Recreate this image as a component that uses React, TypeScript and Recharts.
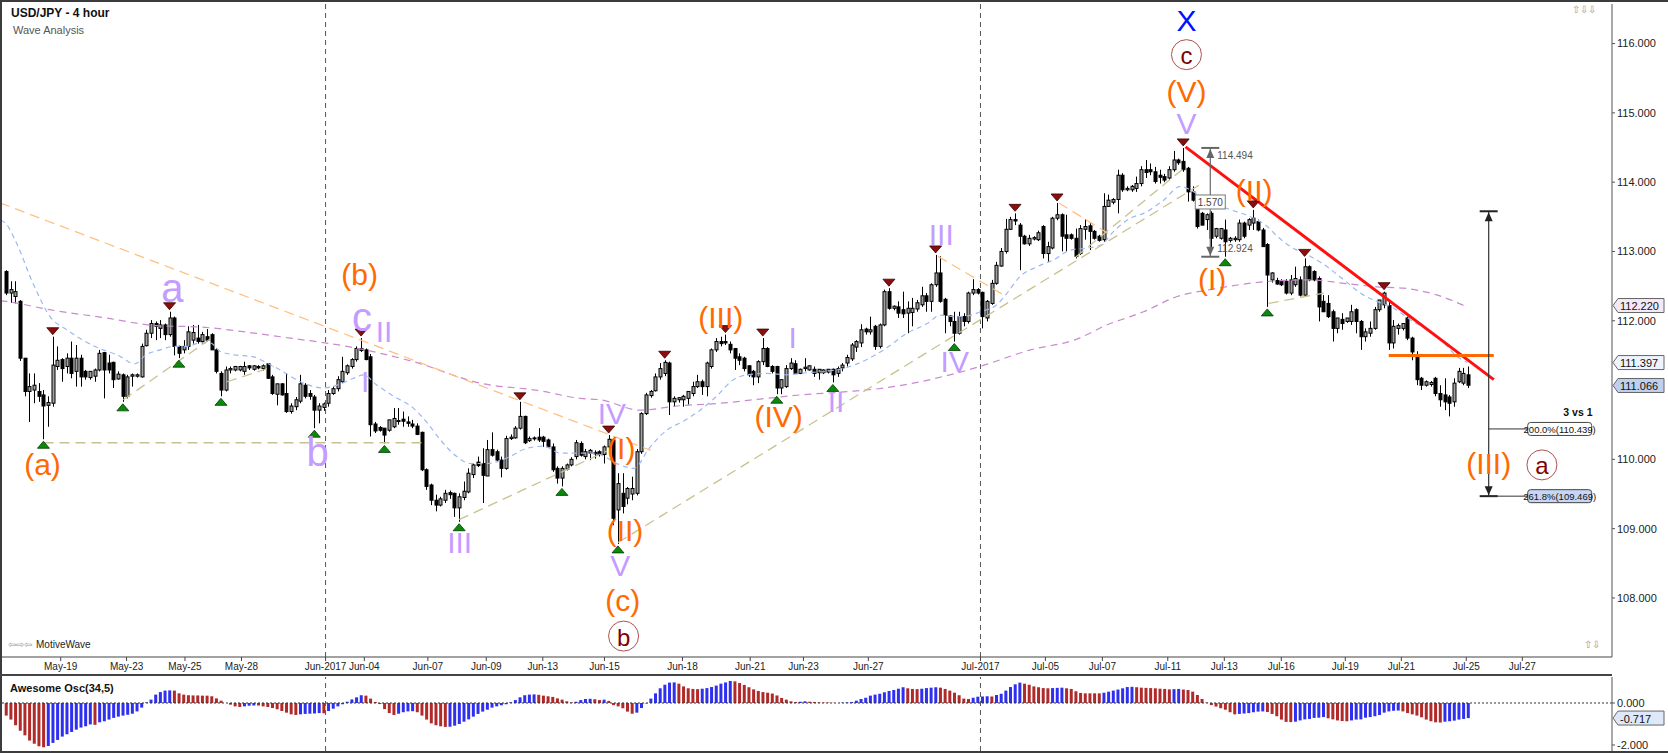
import React from 'react'
import {
  ComposedChart,
  Bar,
  Line,
  XAxis,
  YAxis,
  ReferenceLine,
  ReferenceDot,
  Cell,
} from 'recharts'

type Candle = [number, number, number, number] // open, high, low, close

// USD/JPY 4h bars, bar 0 is the first bar on the left
const candlesMay: Candle[] = [
  [112.71, 112.73, 112.37, 112.4], [112.4, 112.57, 112.26, 112.45], [112.35, 112.57, 112.25, 112.42],
  [112.28, 112.3, 111.42, 111.46], [111.46, 111.46, 110.91, 110.98], [110.98, 111.24, 110.54, 111.05],
  [111.0, 111.24, 110.81, 111.07], [110.98, 111.1, 110.83, 110.91], [110.93, 111.0, 110.29, 110.77],
  [110.78, 110.91, 110.47, 110.82], [110.81, 111.77, 110.76, 111.36], [111.34, 111.63, 111.29, 111.43],
  [111.44, 111.46, 111.12, 111.31], [111.34, 111.53, 111.24, 111.46], [111.46, 111.7, 111.17, 111.24],
  [111.27, 111.65, 111.05, 111.46], [111.46, 111.51, 111.05, 111.19], [111.27, 111.29, 111.15, 111.19],
  [111.18, 111.27, 111.15, 111.27], [111.2, 111.31, 111.12, 111.29], [111.29, 111.58, 111.27, 111.53],
  [111.54, 111.55, 110.88, 111.29], [111.39, 111.51, 111.24, 111.29], [111.4, 111.41, 111.03, 111.15],
  [111.16, 111.27, 111.15, 111.23], [111.22, 111.24, 110.83, 110.91], [110.91, 111.22, 110.88, 111.19],
  [111.2, 111.24, 111.05, 111.22], [111.2, 111.24, 111.18, 111.22], [111.19, 111.67, 111.18, 111.63],
  [111.64, 111.87, 111.63, 111.82], [111.82, 112.01, 111.75, 111.96], [111.96, 111.99, 111.72, 111.92],
  [111.89, 112.01, 111.75, 111.94], [111.94, 111.96, 111.72, 111.8], [111.8, 112.13, 111.77, 112.04],
  [112.04, 112.06, 111.5, 111.63], [111.63, 111.64, 111.46, 111.53], [111.58, 111.72, 111.53, 111.63],
  [111.63, 111.92, 111.58, 111.84], [111.72, 111.94, 111.67, 111.83], [111.75, 111.94, 111.67, 111.7],
  [111.7, 111.84, 111.67, 111.8], [111.77, 111.88, 111.7, 111.72], [111.8, 111.82, 111.58, 111.58],
  [111.58, 111.6, 111.24, 111.27], [111.24, 111.27, 110.91, 111.0], [111.0, 111.34, 110.98, 111.29],
  [111.29, 111.34, 111.24, 111.31], [111.29, 111.35, 111.27, 111.34], [111.29, 111.35, 111.27, 111.34],
  [111.27, 111.41, 111.22, 111.34], [111.35, 111.36, 111.29, 111.32], [111.3, 111.36, 111.28, 111.35],
  [111.34, 111.36, 111.3, 111.32], [111.31, 111.37, 111.28, 111.35], [111.38, 111.39, 111.16, 111.17],
  [111.19, 111.22, 110.93, 110.95], [110.94, 111.09, 110.78, 111.09], [111.09, 111.1, 110.92, 110.93],
  [110.95, 111.24, 110.67, 110.69], [110.69, 110.81, 110.66, 110.77], [110.76, 110.9, 110.71, 110.86],
  [110.84, 111.22, 110.81, 111.09], [111.07, 111.1, 110.88, 110.91], [110.95, 111.0, 110.86, 110.91],
  [110.9, 110.93, 110.45, 110.71], [110.71, 110.81, 110.52, 110.77], [110.75, 110.82, 110.7, 110.8],
]

const candlesJun: Candle[] = [
  [110.81, 111.0, 110.76, 110.95], [110.95, 111.05, 110.93, 111.02], [111.02, 111.2, 110.98, 111.15],
  [111.12, 111.48, 111.1, 111.27], [111.25, 111.37, 111.22, 111.35], [111.34, 111.46, 111.31, 111.44],
  [111.44, 111.63, 111.41, 111.6], [111.6, 111.75, 111.55, 111.57], [111.58, 111.6, 111.43, 111.44],
  [111.48, 111.52, 110.33, 110.5], [110.51, 110.54, 110.38, 110.41], [110.46, 110.48, 110.4, 110.42],
  [110.45, 110.45, 110.23, 110.35], [110.42, 110.57, 110.4, 110.57], [110.47, 110.74, 110.45, 110.59],
  [110.55, 110.74, 110.5, 110.56], [110.58, 110.69, 110.47, 110.55], [110.54, 110.62, 110.47, 110.52],
  [110.51, 110.57, 110.45, 110.48], [110.48, 110.52, 110.35, 110.36], [110.39, 110.4, 109.83, 109.85],
  [109.85, 109.87, 109.56, 109.61], [109.63, 109.65, 109.34, 109.41], [109.41, 109.49, 109.25, 109.34],
  [109.34, 109.46, 109.32, 109.43], [109.41, 109.56, 109.37, 109.51], [109.52, 109.55, 109.43, 109.49],
  [109.51, 109.52, 109.17, 109.3], [109.3, 109.51, 109.1, 109.46], [109.45, 109.68, 109.41, 109.54],
  [109.53, 109.87, 109.51, 109.8], [109.78, 109.94, 109.73, 109.92], [109.96, 110.04, 109.89, 109.91],
  [109.94, 110.16, 109.37, 109.77], [109.76, 110.28, 109.76, 110.14], [110.14, 110.39, 110.04, 110.06],
  [110.11, 110.14, 109.96, 109.99], [109.99, 110.04, 109.74, 109.87], [109.87, 110.34, 109.85, 110.3],
  [110.3, 110.36, 110.28, 110.32], [110.31, 110.48, 110.3, 110.45], [110.45, 110.83, 110.43, 110.62],
  [110.62, 110.63, 110.22, 110.24], [110.27, 110.33, 110.25, 110.3], [110.3, 110.33, 110.27, 110.31],
  [110.32, 110.45, 110.25, 110.28], [110.32, 110.34, 110.18, 110.26], [110.28, 110.3, 110.17, 110.18],
  [110.18, 110.23, 109.82, 109.85], [109.87, 109.9, 109.65, 109.73], [109.73, 109.9, 109.61, 109.87],
  [109.86, 109.94, 109.84, 109.92], [109.92, 110.03, 109.9, 110.0], [110.04, 110.28, 110.0, 110.24],
  [110.23, 110.26, 110.04, 110.06], [110.04, 110.15, 110.0, 110.11], [110.09, 110.15, 109.99, 110.13],
  [110.08, 110.13, 110.01, 110.1], [110.11, 110.13, 110.04, 110.07], [110.07, 110.2, 109.94, 110.18],
  [110.18, 110.35, 110.15, 110.29], [110.28, 110.3, 109.05, 109.15], [109.27, 109.8, 108.78, 109.65],
  [109.51, 109.8, 109.22, 109.32], [109.44, 109.6, 109.35, 109.58], [109.5, 109.75, 109.41, 109.58],
  [109.51, 110.15, 109.48, 110.11], [110.11, 110.68, 110.08, 110.66], [110.66, 110.96, 110.64, 110.93],
  [110.92, 111.0, 110.89, 110.98], [110.99, 111.24, 110.98, 111.19], [111.19, 111.39, 111.15, 111.31],
  [111.24, 111.43, 111.2, 111.4], [111.39, 111.41, 110.64, 110.83], [110.83, 110.91, 110.76, 110.88],
  [110.86, 110.9, 110.82, 110.89], [110.86, 110.93, 110.76, 110.91], [110.88, 110.98, 110.79, 110.98],
  [110.95, 111.12, 110.91, 111.05], [111.05, 111.22, 111.03, 111.12], [111.12, 111.15, 110.93, 111.05],
  [111.05, 111.41, 110.91, 111.39], [111.34, 111.6, 111.31, 111.58], [111.58, 111.75, 111.55, 111.7],
  [111.7, 111.77, 111.63, 111.67], [111.7, 111.8, 111.65, 111.68], [111.66, 111.7, 111.53, 111.58],
  [111.6, 111.6, 111.29, 111.46], [111.48, 111.53, 111.36, 111.43], [111.46, 111.48, 111.27, 111.31],
  [111.35, 111.36, 111.19, 111.22], [111.27, 111.29, 111.07, 111.19], [111.19, 111.43, 111.1, 111.41],
  [111.41, 111.75, 111.36, 111.6], [111.6, 111.62, 111.33, 111.34], [111.34, 111.36, 111.24, 111.27],
  [111.34, 111.35, 110.94, 111.03], [111.03, 111.15, 110.94, 111.15], [111.05, 111.36, 111.03, 111.31],
  [111.31, 111.46, 111.29, 111.39], [111.38, 111.43, 111.24, 111.24], [111.24, 111.31, 111.23, 111.3],
  [111.31, 111.46, 111.27, 111.33], [111.29, 111.36, 111.28, 111.35], [111.3, 111.34, 111.19, 111.24],
  [111.25, 111.3, 111.15, 111.3], [111.25, 111.3, 111.23, 111.29], [111.26, 111.3, 111.24, 111.3],
  [111.3, 111.31, 111.11, 111.22], [111.24, 111.34, 111.19, 111.31], [111.32, 111.39, 111.27, 111.36],
  [111.39, 111.51, 111.34, 111.47], [111.45, 111.68, 111.42, 111.65], [111.62, 111.72, 111.55, 111.7],
  [111.68, 111.95, 111.62, 111.87], [111.88, 111.9, 111.8, 111.84], [111.84, 112.06, 111.8, 111.87],
  [111.92, 111.94, 111.58, 111.63], [111.63, 111.96, 111.6, 111.94], [111.94, 112.45, 111.92, 112.42],
  [112.42, 112.47, 112.16, 112.18], [112.18, 112.22, 112.15, 112.21], [112.2, 112.28, 112.04, 112.11],
  [112.16, 112.42, 112.04, 112.1], [112.11, 112.28, 111.82, 112.18], [112.12, 112.33, 111.92, 112.18],
  [112.17, 112.3, 112.13, 112.26], [112.23, 112.49, 112.2, 112.36], [112.36, 112.4, 112.13, 112.28],
  [112.28, 112.54, 112.13, 112.52], [112.52, 112.95, 112.49, 112.69], [112.69, 112.93, 112.26, 112.28],
  [112.31, 112.33, 111.82, 112.08], [112.07, 112.08, 111.92, 111.99], [111.99, 112.13, 111.7, 111.82],
  [111.82, 112.13, 111.8, 112.06], [112.06, 112.11, 111.92, 111.99], [111.99, 112.42, 111.96, 112.4],
  [112.4, 112.6, 112.37, 112.45], [112.45, 112.47, 112.38, 112.4],
]

const candlesJul: Candle[] = [
  [112.41, 112.42, 111.89, 112.06], [112.04, 112.3, 111.99, 112.28], [112.25, 112.59, 112.23, 112.54],
  [112.54, 112.85, 112.52, 112.8], [112.79, 113.05, 112.78, 113.0], [113.0, 113.47, 112.97, 113.32],
  [113.32, 113.5, 113.31, 113.46], [113.46, 113.55, 113.38, 113.44], [113.38, 113.41, 112.73, 113.22],
  [113.22, 113.24, 113.1, 113.11], [113.11, 113.24, 113.08, 113.19], [113.18, 113.22, 113.16, 113.2],
  [113.17, 113.3, 113.15, 113.27], [113.36, 113.38, 112.9, 112.97], [112.97, 113.14, 112.85, 113.07],
  [113.05, 113.5, 113.03, 113.48], [113.48, 113.7, 113.45, 113.53], [113.53, 113.55, 113.0, 113.22],
  [113.24, 113.53, 113.0, 113.19], [113.24, 113.26, 113.17, 113.19], [113.19, 113.33, 112.9, 112.93],
  [112.97, 113.38, 112.95, 113.33], [113.32, 113.46, 113.17, 113.36], [113.37, 113.41, 113.02, 113.29],
  [113.29, 113.31, 113.17, 113.19], [113.22, 113.24, 113.14, 113.16], [113.17, 113.84, 113.14, 113.65],
  [113.65, 113.82, 113.65, 113.74], [113.71, 113.77, 113.68, 113.75], [113.75, 114.18, 113.55, 114.1],
  [114.1, 114.13, 113.86, 113.89], [113.89, 113.94, 113.87, 113.91], [113.89, 113.96, 113.86, 113.94],
  [113.91, 114.08, 113.86, 113.98], [113.98, 114.23, 113.94, 114.18], [114.18, 114.32, 114.06, 114.14],
  [114.18, 114.27, 114.1, 114.15], [114.15, 114.22, 113.98, 114.01], [114.1, 114.18, 113.98, 114.07],
  [114.08, 114.12, 114.0, 114.03], [114.06, 114.23, 114.03, 114.18], [114.18, 114.45, 114.15, 114.32],
  [114.32, 114.34, 114.25, 114.28], [114.3, 114.494, 114.15, 114.18], [114.2, 114.22, 113.72, 113.86],
  [113.86, 113.94, 113.72, 113.74], [113.62, 113.63, 113.33, 113.36], [113.55, 113.57, 113.38, 113.38],
  [113.46, 113.55, 113.31, 113.53], [113.55, 113.58, 113.05, 113.19], [113.22, 113.34, 113.19, 113.33],
  [113.19, 113.34, 113.17, 113.33], [113.31, 113.46, 112.924, 113.14], [113.16, 113.21, 113.13, 113.19],
  [113.17, 113.22, 113.14, 113.19], [113.17, 113.46, 113.14, 113.41], [113.41, 113.43, 113.19, 113.22],
  [113.38, 113.48, 113.31, 113.46], [113.41, 113.6, 113.31, 113.48], [113.43, 113.46, 113.29, 113.31],
  [113.31, 113.34, 113.07, 113.07], [113.1, 113.12, 112.2, 112.66], [112.59, 112.7, 112.55, 112.69],
  [112.58, 112.62, 112.52, 112.53], [112.57, 112.6, 112.5, 112.52], [112.57, 112.6, 112.38, 112.4],
  [112.4, 112.66, 112.37, 112.59], [112.52, 112.78, 112.49, 112.61], [112.59, 112.64, 112.35, 112.37],
  [112.37, 112.9, 112.35, 112.78], [112.78, 112.8, 112.57, 112.59], [112.71, 112.73, 112.57, 112.59],
  [112.61, 112.64, 111.99, 112.2], [112.28, 112.37, 112.13, 112.13], [112.25, 112.37, 112.04, 112.06],
  [112.13, 112.16, 111.7, 111.89], [111.89, 112.04, 111.82, 112.04], [112.02, 112.11, 111.87, 111.96],
  [111.99, 112.04, 111.97, 112.04], [111.99, 112.23, 111.94, 112.13], [112.16, 112.18, 111.82, 111.99],
  [111.99, 112.01, 111.58, 111.77], [111.77, 111.89, 111.7, 111.84], [111.82, 111.99, 111.77, 111.89],
  [111.89, 112.2, 111.87, 112.16], [112.16, 112.3, 112.13, 112.3], [112.23, 112.42, 112.18, 112.4],
  [112.22, 112.3, 111.58, 111.68], [111.68, 112.01, 111.6, 111.92], [111.89, 111.96, 111.8, 111.93],
  [111.89, 111.96, 111.86, 111.96], [112.04, 112.06, 111.72, 111.75], [111.75, 111.77, 111.43, 111.55],
  [111.51, 111.56, 111.07, 111.15], [111.17, 111.19, 111.0, 111.07], [111.07, 111.14, 111.05, 111.12],
  [111.08, 111.13, 111.05, 111.11], [111.17, 111.19, 110.91, 110.95], [110.95, 111.07, 110.76, 110.86],
  [110.93, 111.17, 110.71, 110.83], [110.9, 110.93, 110.62, 110.81], [110.83, 111.17, 110.76, 111.1],
  [111.12, 111.32, 111.1, 111.27], [111.1, 111.32, 111.07, 111.24], [111.22, 111.34, 111.03, 111.07],
]

// Awesome Oscillator (34,5), one value per bar
const aoMay = [
  -0.6, -0.79, -1.06, -1.32, -1.54, -1.79, -1.94, -2.06, -2.11, -2.05, -1.9, -1.76, -1.6, -1.49, -1.38,
  -1.27, -1.17, -1.11, -1.02, -1.04, -0.92, -0.87, -0.79, -0.71, -0.65, -0.6, -0.56, -0.51, -0.4, -0.22,
  0.03, 0.16, 0.4, 0.52, 0.59, 0.6, 0.59, 0.46, 0.4, 0.37, 0.36, 0.36, 0.35, 0.35, 0.32, 0.22, 0.11, 0.0,
  -0.08, -0.16, -0.19, -0.16, -0.13, -0.12, -0.12, -0.16, -0.19, -0.24, -0.3, -0.38, -0.46, -0.54, -0.57,
  -0.54, -0.52, -0.51, -0.5, -0.48, -0.49,
]
const aoJun = [
  -0.38, -0.27, -0.16, -0.06, 0.06, 0.17, 0.27, 0.37, 0.35, 0.21, 0.05, -0.05, -0.29, -0.48, -0.57, -0.51,
  -0.44, -0.4, -0.39, -0.44, -0.6, -0.79, -0.97, -1.06, -1.11, -1.14, -1.13, -1.08, -1.0, -0.89, -0.78,
  -0.65, -0.52, -0.41, -0.32, -0.22, -0.16, -0.11, -0.06, 0.03, 0.14, 0.27, 0.37, 0.4, 0.41, 0.39, 0.35,
  0.32, 0.29, 0.22, 0.16, 0.08, 0.03, 0.06, 0.14, 0.19, 0.2, 0.18, 0.14, 0.16, 0.1, -0.1, -0.16, -0.25,
  -0.41, -0.51, -0.46, -0.24, -0.02, 0.21, 0.46, 0.7, 0.87, 0.97, 0.98, 0.92, 0.79, 0.7, 0.67, 0.66, 0.68,
  0.71, 0.76, 0.83, 0.92, 0.98, 1.05, 1.03, 0.95, 0.86, 0.75, 0.65, 0.57, 0.52, 0.49, 0.45, 0.36, 0.24,
  0.16, 0.08, 0.05, 0.06, 0.08, 0.06, 0.05, 0.03, 0.02, 0.02, 0.01, 0.0, 0.02, 0.03, 0.05, 0.11, 0.19,
  0.25, 0.35, 0.4, 0.44, 0.51, 0.57, 0.62, 0.68, 0.75, 0.7, 0.67, 0.66, 0.68, 0.71, 0.73, 0.75, 0.73,
  0.67, 0.59, 0.49, 0.37, 0.21, 0.19, 0.25, 0.3,
]
const aoJul = [
  0.31, 0.32, 0.31, 0.38, 0.44, 0.59, 0.76, 0.89, 0.97, 0.92, 0.87, 0.79, 0.75, 0.71, 0.7, 0.71, 0.72,
  0.73, 0.7, 0.67, 0.56, 0.48, 0.46, 0.46, 0.46, 0.46, 0.49, 0.54, 0.59, 0.64, 0.7, 0.76, 0.77, 0.75,
  0.73, 0.72, 0.71, 0.7, 0.68, 0.67, 0.65, 0.66, 0.67, 0.64, 0.62, 0.54, 0.38, 0.19, 0.02, -0.1, -0.17,
  -0.25, -0.32, -0.44, -0.54, -0.52, -0.5, -0.48, -0.44, -0.41, -0.4, -0.43, -0.52, -0.63, -0.79, -0.9,
  -0.91, -0.89, -0.83, -0.78, -0.76, -0.71, -0.7, -0.67, -0.73, -0.78, -0.83, -0.86, -0.87, -0.83, -0.79,
  -0.78, -0.7, -0.67, -0.63, -0.57, -0.46, -0.4, -0.37, -0.36, -0.4, -0.48, -0.54, -0.6, -0.68, -0.79,
  -0.87, -0.92, -0.93, -0.89, -0.87, -0.84, -0.79, -0.76, -0.72,
]

// date ticks (bar position) and their labels
const dateTicks = [
  11.7, 25.8, 38.3, 50.4, 68.4, 76.7, 90.3, 102.8, 114.9, 128.1, 144.8, 159.3, 170.7, 184.6, 208.6, 222.5,
  234.7, 248.7, 260.8, 273.0, 286.7, 298.7, 312.6, 324.6,
]
const dateLabels = [
  'May-19', 'May-23', 'May-25', 'May-28', 'Jun-2017', 'Jun-04', 'Jun-07', 'Jun-09', 'Jun-13', 'Jun-15',
  'Jun-18', 'Jun-21', 'Jun-23', 'Jun-27', 'Jul-2017', 'Jul-05', 'Jul-07', 'Jul-11', 'Jul-13', 'Jul-16',
  'Jul-19', 'Jul-21', 'Jul-25', 'Jul-27',
]
const monthStarts = [68.4, 208.6]
// 111.000 sits behind the last-price tag, so it is not shown
const priceTicks = [108, 109, 110, 112, 113, 114, 115, 116]
const aoTicks = [0, -2]

// moving averages: [bar, price]
const fastMa: [number, number][] = [
  [-1.2, 113.45], [0, 113.4], [1.9, 113.17], [5.9, 112.52], [9.4, 112.06], [13, 111.87], [20, 111.6],
  [23.7, 111.51], [27.6, 111.38], [30, 111.51], [33, 111.58], [36, 111.63], [38.7, 111.63], [41.5, 111.68],
  [43.7, 111.68], [45.8, 111.56], [48.7, 111.51], [53, 111.48], [55.8, 111.39], [58.7, 111.29], [63, 111.12],
  [68, 111.03], [70.8, 111.07], [74.4, 111.17], [76.5, 111.22], [79.4, 111.07], [83, 110.91], [87.2, 110.74],
  [90, 110.54], [93, 110.28], [96.5, 110.04], [99.4, 109.94], [102.9, 109.94], [107.2, 110.02],
  [111.5, 110.16], [115.1, 110.19], [118.6, 110.09], [125.7, 110.09], [132.2, 109.9], [134.3, 109.87],
  [137.9, 110.18], [141.4, 110.42], [145, 110.55], [148.6, 110.71], [152.1, 110.91], [155.7, 111.15],
  [158.6, 111.22], [162.9, 111.24], [167.1, 111.22], [171.4, 111.25], [175.7, 111.27], [180.7, 111.34],
  [187.9, 111.58], [192.9, 111.82], [197.2, 111.96], [200, 112.08], [202.9, 112.06], [205.7, 112.07],
  [208.6, 112.13], [212.1, 112.23], [214.3, 112.4], [217.1, 112.64], [220.7, 112.78], [224.3, 112.88],
  [227.9, 113.02], [231.4, 113.05], [234.3, 113.09], [237.1, 113.29], [240.7, 113.48], [243.5, 113.55],
  [247.8, 113.74], [251.4, 113.94], [253.5, 113.89], [257.1, 113.74], [261.4, 113.62], [266.4, 113.5],
  [270, 113.36], [272.1, 113.22], [275, 113.07], [279.2, 112.93], [282.8, 112.78], [286.4, 112.59],
  [290.6, 112.37], [293.5, 112.28], [297.1, 112.18], [300.7, 112.01], [304.2, 111.87], [307.8, 111.68],
  [310.7, 111.48], [312.8, 111.4],
]
const slowMa: [number, number][] = [
  [-1.2, 112.29], [0, 112.28], [9.3, 112.16], [21.4, 112.04], [32.1, 111.93], [41.5, 111.91], [52.2, 111.83],
  [60.8, 111.75], [73, 111.63], [87.2, 111.41], [101.5, 111.1], [114.3, 110.99], [122.9, 110.88],
  [127.2, 110.86], [135.7, 110.71], [143.6, 110.77], [152.9, 110.81], [161.4, 110.87], [170, 110.93],
  [180.7, 110.98], [188, 111.03], [208, 111.33], [219.3, 111.58], [228.6, 111.72], [236.4, 111.96],
  [240.7, 112.06], [243.5, 112.13], [250.7, 112.35], [257.8, 112.45], [265, 112.53], [270.7, 112.57],
  [279.2, 112.59], [286.4, 112.54], [293.5, 112.49], [299.2, 112.47], [306.4, 112.37], [312.4, 112.21],
]

const swingHighBars = [10, 35, 76, 110, 129, 141, 154, 162, 189, 199, 216, 225, 252, 267, 278, 295]
const swingLowBars = [8, 25, 37, 46, 66, 81, 97, 119, 131, 165, 177, 203, 261, 270]

// wave labels: [text, bar, price]
const orangeWaves: [string, number, number][] = [
  ['(a)', 7.8, 109.92], ['(b)', 75.7, 112.67], ['(c)', 132, 107.96], ['(I)', 131.7, 110.15],
  ['(II)', 132.5, 108.97], ['(III)', 153, 112.05], ['(IV)', 165.4, 110.62], ['(V)', 252.7, 115.31],
  ['(I)', 258.2, 112.6], ['(II)', 267.2, 113.88], ['(III)', 317.4, 109.94],
]
const purpleWaves: [string, number, number][] = [
  ['I', 76.9, 111.12], ['II', 80.9, 111.84], ['III', 97.1, 108.8], ['IV', 129.7, 110.66], ['V', 131.5, 108.47],
  ['I', 168.4, 111.76], ['II', 177.7, 110.83], ['III', 200.2, 113.24], ['IV', 203.1, 111.41], ['V', 252.7, 114.85],
]
const purpleLetters: [string, number, number][] = [
  ['a', 35.6, 112.47], ['b', 66.7, 110.11], ['c', 76.2, 112.06],
]
const circledWaves: [string, number, number][] = [
  ['b', 132.2, 107.45], ['c', 252.7, 115.84], ['a', 328.8, 109.92],
]
const blueWaves: [string, number, number][] = [['X', 252.7, 116.34]]

// trend lines: [bar1, price1, bar2, price2]
const peachLines: [number, number, number, number][] = [
  [-1.28, 113.7, 138, 110.13], [199.5, 112.93, 213.6, 112.37], [225.4, 113.7, 236.4, 113.24],
]
const khakiLines: [number, number, number, number][] = [
  [25.1, 110.86, 44.4, 111.77], [47.3, 111.12, 57.3, 111.34], [8, 110.24, 89.4, 110.24],
  [97, 109.13, 128.6, 110.12], [131, 108.8, 255.5, 113.96], [229, 112.92, 252.5, 114.22],
  [270.3, 112.25, 282.1, 112.4],
]
const redLine: [number, number, number, number] = [252.5, 114.51, 318.5, 111.15]
const orangeLevel: [number, number, number, number] = [296, 111.5, 318.5, 111.5]

// projection tool
const projBar = 317.4
const projTop = 113.58
const fibLevels: [string, number][] = [['200.0%', 110.439], ['261.8%', 109.469]]
const waveBar = 257.8
const waveHigh = 114.494
const waveLow = 112.924

const lastClose = 111.066
const fastLast = 111.397
const slowLast = 112.22
const aoLast = -0.717

const XMIN = -1.3
const XMAX = 343.8
const PMIN = 107.148
const PMAX = 116.571

const SANS = "'Liberation Sans', Arial, sans-serif"
const NARROW = "'Liberation Sans Narrow', 'Liberation Sans', Arial, sans-serif"
const ORANGE = '#ff6a00'
const PURPLE = '#c49cff'

const candles = [...candlesMay, ...candlesJun, ...candlesJul]
const candleRows = candles.map(([o, h, l, c], i) => ({ i, o, h, l, c, range: [l, h] }))
const aoValues = [...aoMay, ...aoJun, ...aoJul]
const aoRows = aoValues.map((v, i) => ({ i, v, up: i > 0 && v > aoValues[i - 1] }))
const fastRows = fastMa.map(([i, p]) => ({ i, p }))
const slowRows = slowMa.map(([i, p]) => ({ i, p }))

// eslint-disable-next-line @typescript-eslint/no-explicit-any
function CandleShape(props: any) {
  const { x, y, width, height, payload } = props
  if (x == null || !payload) return null
  const top = Math.min(y, y + height)
  const span = Math.abs(height)
  const { o, h, l, c } = payload
  const k = h > l ? span / (h - l) : 0
  const cx = Math.round(x + width / 2) + 0.5
  const yo = top + (h - o) * k
  const yc = top + (h - c) * k
  const bodyTop = Math.min(yo, yc)
  const bodyH = Math.max(1, Math.abs(yo - yc))
  const up = c >= o
  return (
    <g>
      <line x1={cx} x2={cx} y1={top} y2={top + span} stroke="#000" strokeWidth={1} />
      <rect
        x={cx - 1.5}
        y={bodyTop}
        width={3}
        height={bodyH}
        fill={up ? '#a0a0a0' : '#000'}
        stroke="#000"
        strokeWidth={1}
      />
    </g>
  )
}

const textShape = (text: string, color: string, size: number, font = NARROW, weight = 400) =>
  // eslint-disable-next-line @typescript-eslint/no-explicit-any
  (p: any) => (
    <text
      x={p.cx}
      y={p.cy}
      fill={color}
      fontSize={size}
      fontFamily={font}
      fontWeight={weight}
      textAnchor="middle"
      dominantBaseline="central"
    >
      {text}
    </text>
  )

// eslint-disable-next-line @typescript-eslint/no-explicit-any
const circledShape = (text: string) => (p: any) => (
  <g>
    <circle cx={p.cx} cy={p.cy} r={15} fill="#fff" stroke="#b05050" strokeWidth={1} />
    <text
      x={p.cx}
      y={p.cy + 1}
      fill="#800000"
      fontSize={24}
      fontFamily={SANS}
      textAnchor="middle"
      dominantBaseline="central"
    >
      {text}
    </text>
  </g>
)

// eslint-disable-next-line @typescript-eslint/no-explicit-any
const highMark = (p: any) => (
  <polygon
    points={`${p.cx - 6},${p.cy - 9} ${p.cx + 6},${p.cy - 9} ${p.cx},${p.cy - 2}`}
    fill="#8b0d0d"
    stroke="#3a0000"
    strokeWidth={0.8}
  />
)
// eslint-disable-next-line @typescript-eslint/no-explicit-any
const lowMark = (p: any) => (
  <polygon
    points={`${p.cx - 6},${p.cy + 9} ${p.cx + 6},${p.cy + 9} ${p.cx},${p.cy + 2}`}
    fill="#0a8a0a"
    stroke="#003a00"
    strokeWidth={0.8}
  />
)

// eslint-disable-next-line @typescript-eslint/no-explicit-any
const arrowUp = (color: string) => (p: any) => (
  <g>
    <line x1={p.cx - 9} x2={p.cx + 9} y1={p.cy} y2={p.cy} stroke={color} strokeWidth={2} />
    <polygon points={`${p.cx},${p.cy + 1} ${p.cx - 4},${p.cy + 10} ${p.cx + 4},${p.cy + 10}`} fill={color} />
  </g>
)
// eslint-disable-next-line @typescript-eslint/no-explicit-any
const arrowDown = (color: string) => (p: any) => (
  <g>
    <line x1={p.cx - 9} x2={p.cx + 9} y1={p.cy} y2={p.cy} stroke={color} strokeWidth={2} />
    <polygon points={`${p.cx},${p.cy - 1} ${p.cx - 4},${p.cy - 10} ${p.cx + 4},${p.cy - 10}`} fill={color} />
  </g>
)

// eslint-disable-next-line @typescript-eslint/no-explicit-any
const fibBox = (text: string, bg: string) => (p: any) => (
  <g>
    <line x1={p.cx} x2={p.cx + 39} y1={p.cy} y2={p.cy} stroke="#333" strokeWidth={1} />
    <rect x={p.cx + 39} y={p.cy - 6.5} width={64} height={13} rx={3} fill={bg} stroke="#444" />
    <text x={p.cx + 71} y={p.cy + 0.5} fontSize={9.5} fontFamily={SANS} fill="#111" textAnchor="middle" dominantBaseline="central">
      {text}
    </text>
  </g>
)

// eslint-disable-next-line @typescript-eslint/no-explicit-any
const priceTag = (text: string, bg: string) => (p: any) => (
  <g>
    <polygon
      points={`${p.cx + 1},${p.cy} ${p.cx + 6},${p.cy - 7} ${p.cx + 52},${p.cy - 7} ${p.cx + 52},${p.cy + 7} ${p.cx + 6},${p.cy + 7}`}
      fill={bg}
      stroke="#666"
      strokeWidth={1}
    />
    <text x={p.cx + 8} y={p.cy + 0.5} fontSize={11} fontFamily={SANS} fill="#111" dominantBaseline="central">
      {text}
    </text>
  </g>
)

// eslint-disable-next-line @typescript-eslint/no-explicit-any
const smallText = (text: string, dx: number, dy: number) => (p: any) => (
  <text x={p.cx + dx} y={p.cy + dy} fontSize={10} fontFamily={SANS} fill="#555" dominantBaseline="central">
    {text}
  </text>
)

// eslint-disable-next-line @typescript-eslint/no-explicit-any
const boxText = (text: string) => (p: any) => (
  <g>
    <rect x={p.cx - 15} y={p.cy - 7} width={30} height={14} fill="#fff" stroke="#777" />
    <text x={p.cx} y={p.cy + 0.5} fontSize={10} fontFamily={SANS} fill="#444" textAnchor="middle" dominantBaseline="central">
      {text}
    </text>
  </g>
)

const seg = ([x1, y1, x2, y2]: [number, number, number, number]) => [
  { x: x1, y: y1 },
  { x: x2, y: y2 },
]

export default function App() {
  const tickStyle = { fontSize: 11, fill: '#222', fontFamily: SANS }
  const dateStyle = { fontSize: 10, fill: '#222', fontFamily: SANS }
  return (
    <div
      style={{
        position: 'absolute',
        left: 0,
        top: 0,
        width: 1668,
        height: 753,
        background: '#fff',
        overflow: 'hidden',
        fontFamily: SANS,
      }}
    >
      <div style={{ position: 'absolute', left: 0, top: 0 }}>
        <ComposedChart width={1668} height={676} data={candleRows} margin={{ top: 4, right: 0, bottom: 0, left: 0 }}>
          <XAxis
            dataKey="i"
            type="number"
            domain={[XMIN, XMAX]}
            allowDataOverflow
            ticks={dateTicks}
            interval={0}
            tickFormatter={(v: number) => dateLabels[dateTicks.indexOf(v)] ?? ''}
            tick={dateStyle}
            tickSize={4}
            height={19}
            stroke="#444"
          />
          <YAxis
            orientation="right"
            type="number"
            domain={[PMIN, PMAX]}
            allowDataOverflow
            ticks={priceTicks}
            tickFormatter={(v: number) => v.toFixed(3)}
            tick={tickStyle}
            tickSize={3}
            width={56}
            stroke="#555"
          />
          {monthStarts.map((m) => (
            <ReferenceLine key={m} x={m} stroke="#555" strokeDasharray="5 4" />
          ))}
          <Line data={slowRows} dataKey="p" type="monotone" stroke="#c98ad0" strokeWidth={1.2} strokeDasharray="7 5" dot={false} isAnimationActive={false} />
          <Line data={fastRows} dataKey="p" type="monotone" stroke="#9ab8f4" strokeWidth={1.2} strokeDasharray="5 4" dot={false} isAnimationActive={false} />
          {peachLines.map((l, k) => (
            <ReferenceLine key={'pe' + k} segment={seg(l)} stroke="#ffc080" strokeWidth={1.3} strokeDasharray="10 6" />
          ))}
          {khakiLines.map((l, k) => (
            <ReferenceLine key={'kh' + k} segment={seg(l)} stroke="#c9c28e" strokeWidth={1.3} strokeDasharray="10 6" />
          ))}
          <Bar dataKey="range" barSize={4} shape={CandleShape} isAnimationActive={false} />
          <ReferenceLine segment={seg(redLine)} stroke="#ff1010" strokeWidth={3} />
          <ReferenceLine segment={seg(orangeLevel)} stroke="#ff6a00" strokeWidth={3} />
          {swingHighBars.map((b) => (
            <ReferenceDot key={'h' + b} x={b} y={candles[b][1]} r={0} shape={highMark} />
          ))}
          {swingLowBars.map((b) => (
            <ReferenceDot key={'l' + b} x={b} y={candles[b][2]} r={0} shape={lowMark} />
          ))}

          {/* wave (I) measurement */}
          <ReferenceLine segment={[{ x: waveBar, y: waveLow }, { x: waveBar, y: waveHigh }]} stroke="#666" strokeWidth={1.2} />
          <ReferenceDot x={waveBar} y={waveHigh} r={0} shape={arrowUp('#666')} />
          <ReferenceDot x={waveBar} y={waveLow} r={0} shape={arrowDown('#666')} />
          <ReferenceDot x={waveBar} y={waveHigh} r={0} shape={smallText(waveHigh.toFixed(3), 7, 8)} />
          <ReferenceDot x={waveBar} y={waveLow} r={0} shape={smallText(waveLow.toFixed(3), 7, -8)} />
          <ReferenceDot x={waveBar} y={113.714} r={0} shape={boxText((waveHigh - waveLow).toFixed(3))} />

          {/* projection for wave (III) */}
          <ReferenceLine segment={[{ x: projBar, y: fibLevels[1][1] }, { x: projBar, y: projTop }]} stroke="#333" strokeWidth={1.2} />
          <ReferenceDot x={projBar} y={projTop} r={0} shape={arrowUp('#222')} />
          <ReferenceDot x={projBar} y={fibLevels[1][1]} r={0} shape={arrowDown('#222')} />
          <ReferenceDot x={projBar} y={fibLevels[0][1]} r={0} shape={fibBox(`${fibLevels[0][0]}(${fibLevels[0][1].toFixed(3)})`, '#fff')} />
          <ReferenceDot x={projBar} y={fibLevels[1][1]} r={0} shape={fibBox(`${fibLevels[1][0]}(${fibLevels[1][1].toFixed(3)})`, '#c6d6f6')} />
          <ReferenceDot x={336.5} y={110.68} r={0} shape={textShape('3 vs 1', '#111', 10.5, SANS, 700)} />

          {orangeWaves.map(([t, b, p], k) => (
            <ReferenceDot key={'ow' + k} x={b} y={p} r={0} shape={textShape(t, ORANGE, 30)} />
          ))}
          {purpleWaves.map(([t, b, p], k) => (
            <ReferenceDot key={'pw' + k} x={b} y={p} r={0} shape={textShape(t, PURPLE, 30)} />
          ))}
          {purpleLetters.map(([t, b, p], k) => (
            <ReferenceDot key={'pl' + k} x={b} y={p} r={0} shape={textShape(t, PURPLE, 40, SANS)} />
          ))}
          {circledWaves.map(([t, b, p], k) => (
            <ReferenceDot key={'cw' + k} x={b} y={p} r={0} shape={circledShape(t)} />
          ))}
          {blueWaves.map(([t, b, p], k) => (
            <ReferenceDot key={'bw' + k} x={b} y={p} r={0} shape={textShape(t, '#0010ff', 30, SANS)} />
          ))}

          <ReferenceDot x={XMAX} y={slowLast} r={0} shape={priceTag(slowLast.toFixed(3), '#f3e9f6')} />
          <ReferenceDot x={XMAX} y={fastLast} r={0} shape={priceTag(fastLast.toFixed(3), '#eef3fd')} />
          <ReferenceDot x={XMAX} y={lastClose} r={0} shape={priceTag(lastClose.toFixed(3), '#bfd0ee')} />
        </ComposedChart>
      </div>

      <div style={{ position: 'absolute', left: 0, top: 676 }}>
        <ComposedChart width={1668} height={77} data={aoRows} margin={{ top: 1, right: 0, bottom: 2, left: 0 }}>
          <XAxis dataKey="i" type="number" domain={[XMIN, XMAX]} allowDataOverflow hide />
          <YAxis
            orientation="right"
            type="number"
            domain={[-2.286, 1.238]}
            allowDataOverflow
            ticks={aoTicks}
            tickFormatter={(v: number) => v.toFixed(3)}
            tick={tickStyle}
            tickSize={3}
            width={56}
            stroke="#555"
          />
          {monthStarts.map((m) => (
            <ReferenceLine key={m} x={m} stroke="#555" strokeDasharray="5 4" />
          ))}
          <ReferenceLine y={0} stroke="#333" strokeDasharray="2 2" />
          <Bar dataKey="v" barSize={3} isAnimationActive={false}>
            {aoRows.map((r) => (
              <Cell key={r.i} fill={r.up ? '#2f2ff0' : '#b02a2a'} />
            ))}
          </Bar>
          <ReferenceDot x={XMAX} y={aoLast} r={0} shape={priceTag(aoLast.toFixed(3), '#dfe8f8')} />
        </ComposedChart>
      </div>

      {/* frame and panel separators */}
      <div style={{ position: 'absolute', left: 0, top: 0, width: 1668, height: 2, background: '#3c3c3c' }} />
      <div style={{ position: 'absolute', left: 0, top: 0, width: 2, height: 753, background: '#3c3c3c' }} />
      <div style={{ position: 'absolute', left: 0, top: 674, width: 1612, height: 2, background: '#444' }} />
      <div style={{ position: 'absolute', left: 0, top: 751, width: 1668, height: 2, background: '#3c3c3c' }} />

      <div style={{ position: 'absolute', left: 11, top: 6, fontSize: 12, fontWeight: 700, color: '#111' }}>
        USD/JPY - 4 hour
      </div>
      <div style={{ position: 'absolute', left: 13, top: 24, fontSize: 11, color: '#555' }}>Wave Analysis</div>
      <div style={{ position: 'absolute', left: 8, top: 639, fontSize: 10, color: '#222' }}>
        <span style={{ color: '#999', marginRight: 4 }}>⇦⇨⇦</span>MotiveWave
      </div>
      <div style={{ position: 'absolute', left: 1572, top: 4, fontSize: 10, color: '#999' }}>⇧⇩⇩</div>
      <div style={{ position: 'absolute', left: 1584, top: 639, fontSize: 10, color: '#999' }}>⇧⇩</div>
      <div style={{ position: 'absolute', left: 10, top: 682, fontSize: 11, fontWeight: 700, color: '#111' }}>
        Awesome Osc(34,5)
      </div>
    </div>
  )
}
